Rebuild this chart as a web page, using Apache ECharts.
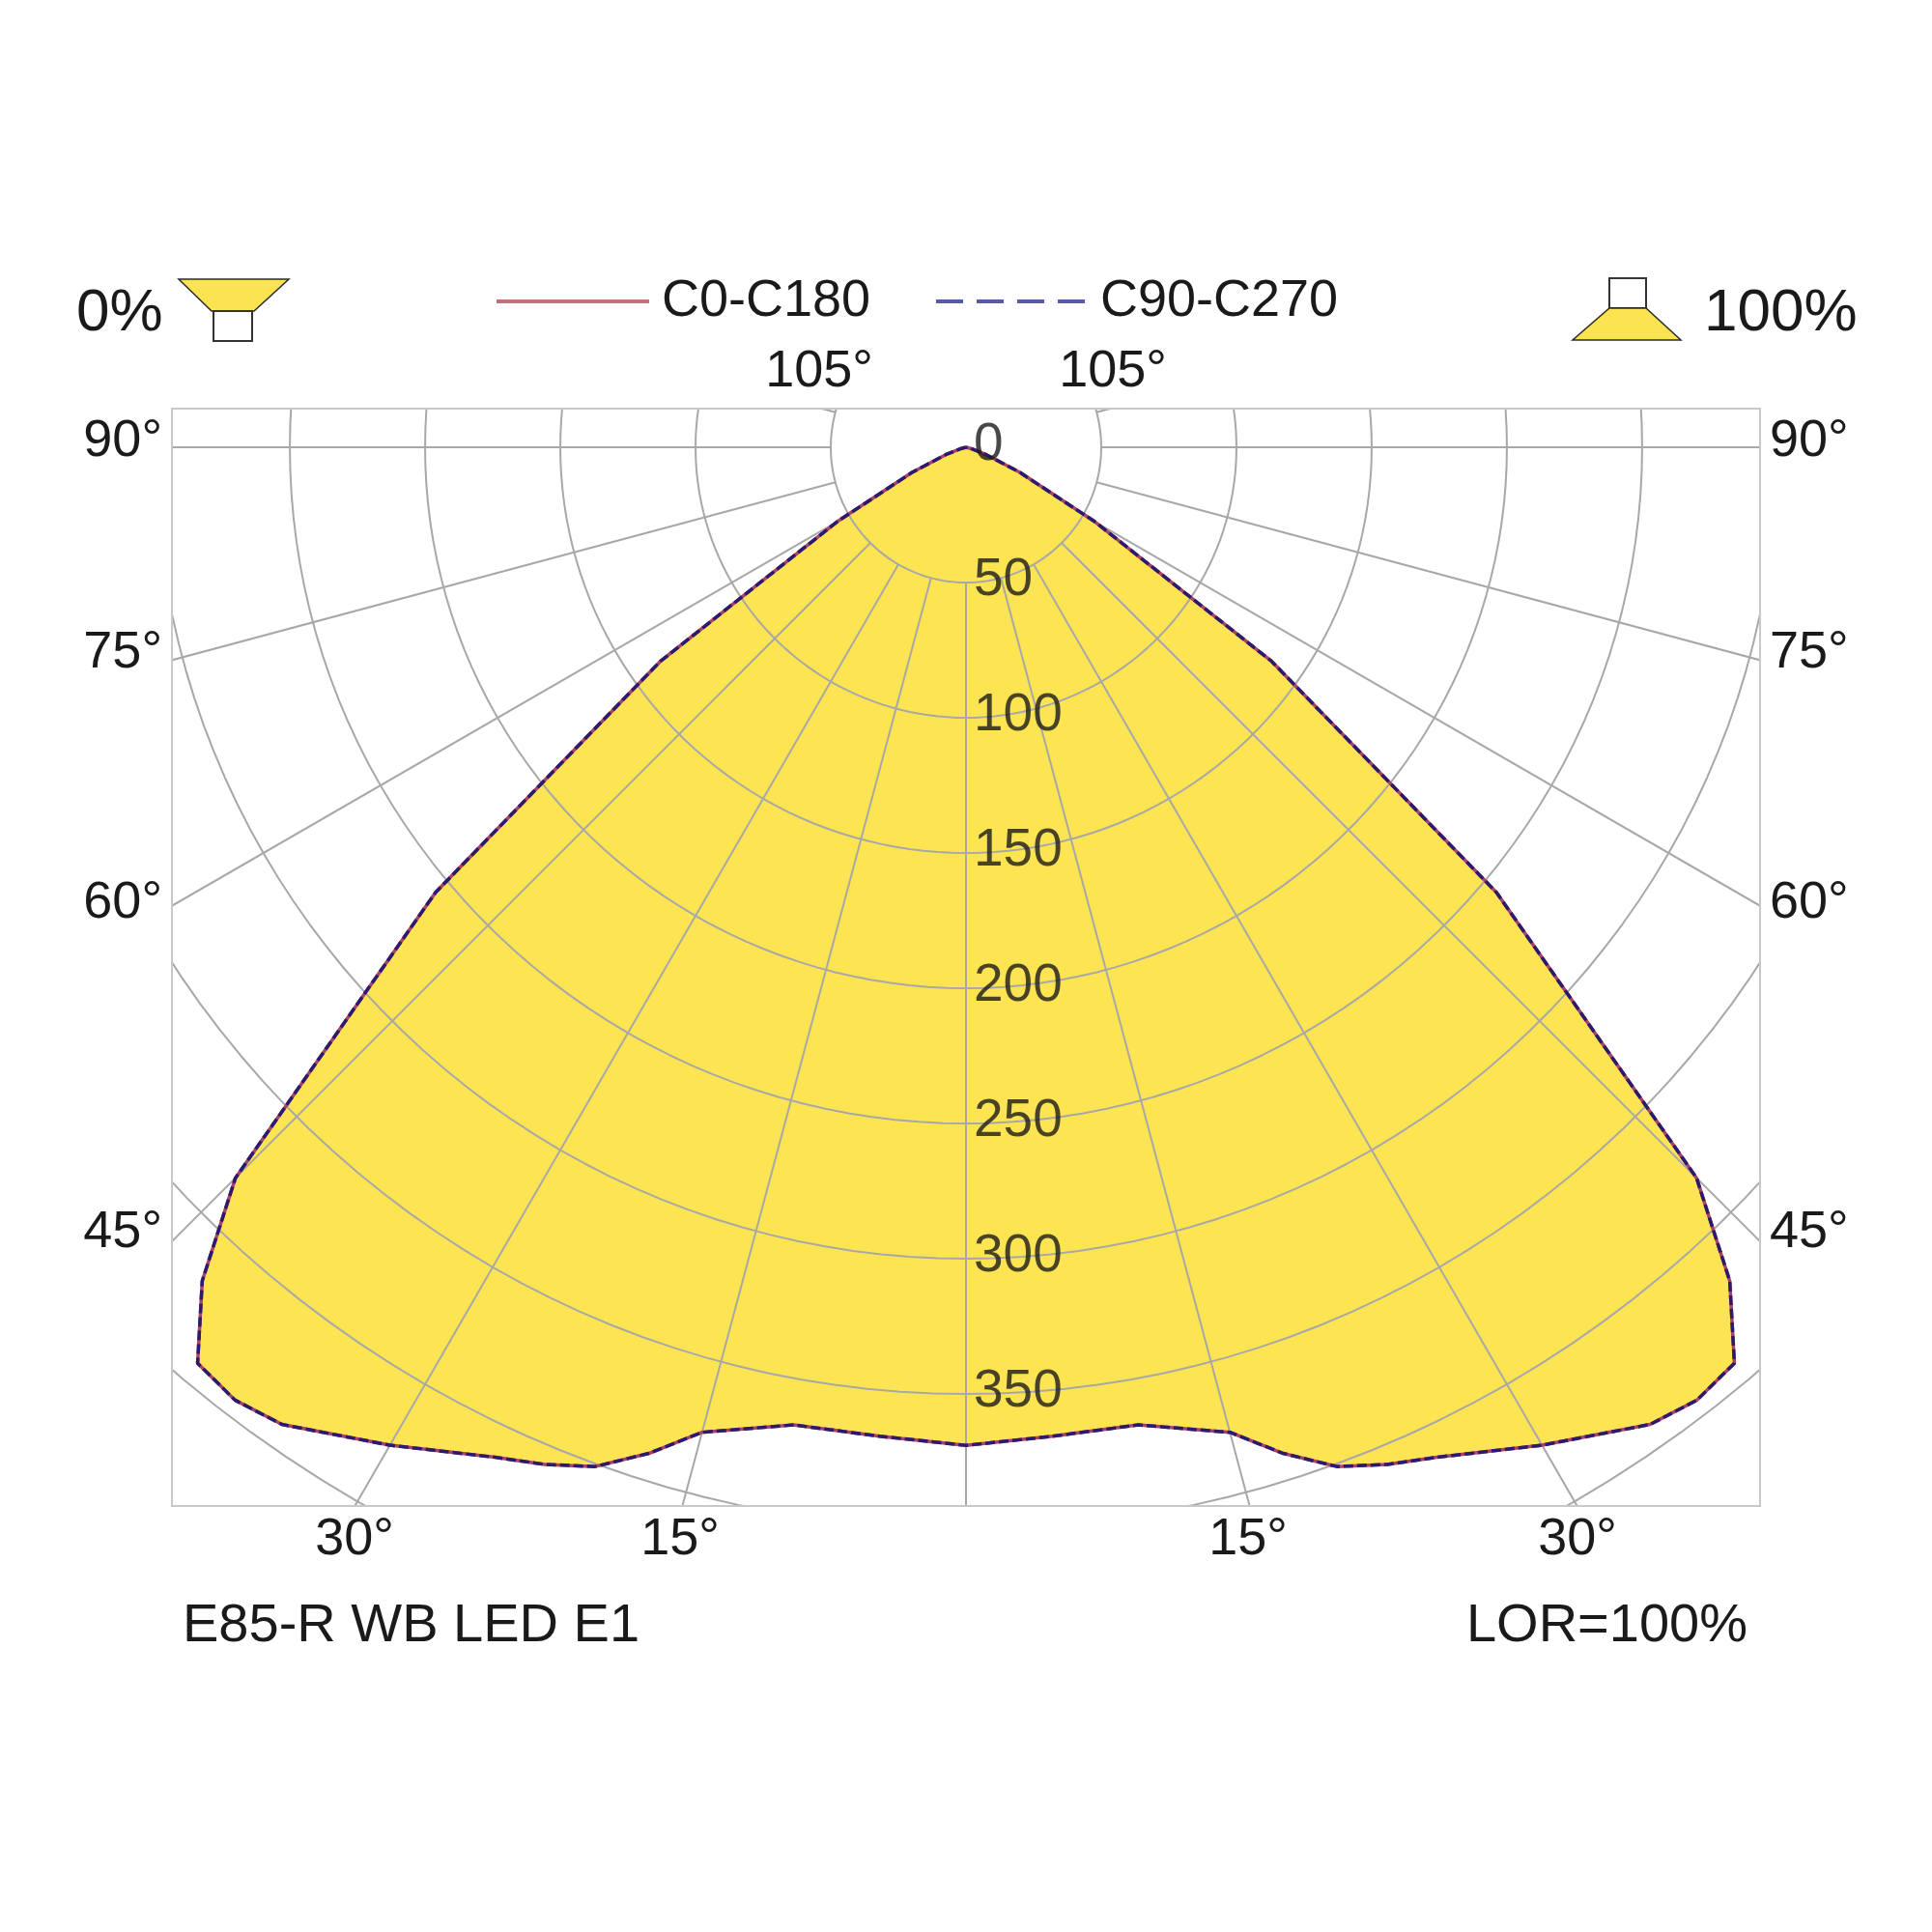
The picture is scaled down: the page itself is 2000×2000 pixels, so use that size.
<!DOCTYPE html>
<html><head><meta charset="utf-8">
<script src="https://cdn.jsdelivr.net/npm/echarts@6/dist/echarts.min.js"></script>
<style>html,body{margin:0;padding:0;background:#fff}#c{width:2000px;height:2000px}</style>
</head><body><div id="c"></div>
<script>
// gamma angles (deg from nadir) and luminous intensity (cd/klm)
const gammaDeg = [0,5,10,15,17.5,20,22.5,25,30,35,37.5,40,42.5,45,50,55,60,65,70,75,80,85,90];
const c0c180   = [369,367,367,377,390,401,407,412,426,441,444,442,418,382,256,138,55,22,8,2,0,0,0];
const c90c270  = [369,367,367,377,390,401,407,412,426,441,444,442,418,382,256,138,55,22,8,2,0,0,0];
const radiusTicks = [0,50,100,150,200,250,300,350];
const gridRadii = [50,100,150,200,250,300,350,400,450,500];
const spokeAngles = [-105,-90,-75,-60,-45,-30,-15,0,15,30,45,60,75,90,105];
const sideLabels = ['90°','75°','60°','45°'];
const bottomLabels = ['30°','15°','15°','30°'];

const FONT = "'Liberation Sans', Arial, sans-serif";
const rad = d => d*Math.PI/180;
function polarPath(vals){
  const pts=[];
  for(let i=gammaDeg.length-1;i>=0;i--){const g=rad(gammaDeg[i]);pts.push([-vals[i]*Math.sin(g),-vals[i]*Math.cos(g)]);}
  for(let i=1;i<gammaDeg.length;i++){const g=rad(gammaDeg[i]);pts.push([vals[i]*Math.sin(g),-vals[i]*Math.cos(g)]);}
  return pts;
}
const pathC0 = polarPath(c0c180), pathC90 = polarPath(c90c270);
const gridSeries=[];
gridRadii.forEach(r=>{
  const d=[];for(let a=0;a<=360;a+=2){d.push([r*Math.sin(rad(a)),-r*Math.cos(rad(a))]);}
  gridSeries.push({type:'line',data:d,showSymbol:false,silent:true,z:3,lineStyle:{color:'#a8a8a8',width:2}});
});
spokeAngles.forEach(a=>{
  gridSeries.push({type:'line',data:[[50*Math.sin(rad(a)),-50*Math.cos(rad(a))],[800*Math.sin(rad(a)),-800*Math.cos(rad(a))]],showSymbol:false,silent:true,z:3,lineStyle:{color:'#a8a8a8',width:2}});
});
const chart=echarts.init(document.getElementById('c'));
const txt=(t,x,y,align,size)=>({type:'text',x:x,y:y,style:{text:t,fill:'#1a1a1a',font:size+'px '+FONT,textAlign:align,textVerticalAlign:'middle'}});
const graphics=[
  txt('0%',79,325,'left',62), txt('100%',1764,325,'left',62),
  txt('C0-C180',685,312,'left',54), txt('C90-C270',1139,312,'left',54),
  txt('105°',848,385,'center',54), txt('105°',1152,385,'center',54),
  txt('E85-R WB LED E1',189,1684,'left',56), txt('LOR=100%',1809,1684,'right',56),
  {type:'line',shape:{x1:514,y1:312,x2:672,y2:312},style:{stroke:'#c07078',lineWidth:4}},
  {type:'line',shape:{x1:969,y1:312,x2:1129,y2:312},style:{stroke:'#5a5aa8',lineWidth:4,lineDash:[28,14]}},
  {type:'polygon',shape:{points:[[185,289],[299,289],[263,322],[219,322]]},style:{fill:'#fce451',stroke:'#2a2a2a',lineWidth:1.5}},
  {type:'rect',shape:{x:221,y:322,width:40,height:31},style:{fill:'#fff',stroke:'#333',lineWidth:2}},
  {type:'rect',shape:{x:1666,y:288,width:38,height:31},style:{fill:'#fff',stroke:'#333',lineWidth:2}},
  {type:'polygon',shape:{points:[[1666,319],[1704,319],[1740,352],[1628,352]]},style:{fill:'#fce451',stroke:'#2a2a2a',lineWidth:1.5}}
];
const sideY=[457,676,935,1276];
sideLabels.forEach((t,i)=>{graphics.push(txt(t,168,sideY[i],'right',54));graphics.push(txt(t,1832,sideY[i],'left',54));});
const botX=[367,704,1292,1633];
bottomLabels.forEach((t,i)=>graphics.push(txt(t,botX[i],1594,'center',54)));

chart.setOption({
  animation:false,
  grid:{left:178,right:178,top:423,height:1136,show:true,borderColor:'#c8c8c8',borderWidth:2,z:10},
  xAxis:{type:'value',min:-293.6,max:293.6,show:false},
  yAxis:{type:'value',min:-391.4,max:14.3,show:false},
  graphic:graphics,
  series:[
    {type:'custom',clip:true,z:1,data:[0],renderItem:(p,api)=>({type:'polygon',shape:{points:pathC0.map(q=>api.coord(q))},style:{fill:'#fde453'}})},
    ...gridSeries,
    {name:'C0-C180',type:'line',data:pathC0,showSymbol:false,z:5,lineStyle:{color:'#b04060',width:3.5}},
    {name:'C90-C270',type:'line',data:pathC90,showSymbol:false,z:6,lineStyle:{color:'#2a1a70',width:3.5,type:[10,4]}},
    {type:'scatter',z:7,symbolSize:0,data:radiusTicks.map(r=>[0,-r]),label:{show:true,position:'right',distance:8,offset:[0,-2],formatter:p=>String(-p.value[1]),fontSize:55,fontFamily:FONT,color:'#1a1a1a'}}
  ]
});
</script></body></html>
